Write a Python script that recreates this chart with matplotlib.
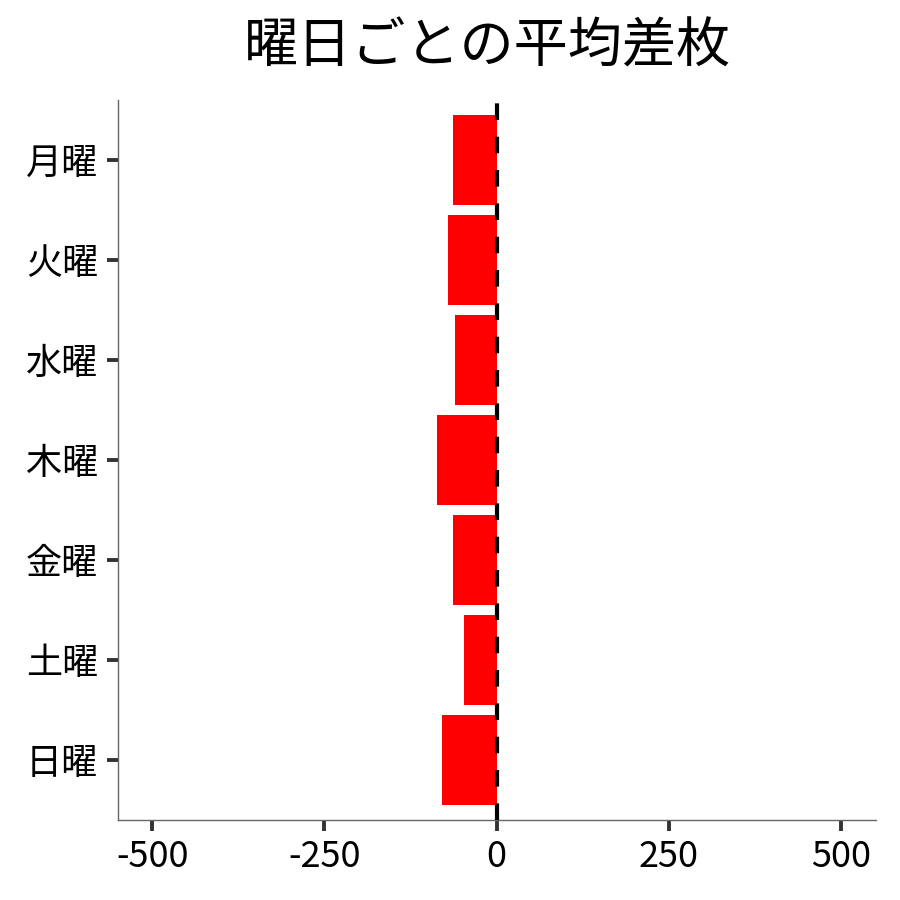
import matplotlib
matplotlib.use("Agg")
import matplotlib.pyplot as plt

plt.rcParams['font.family'] = ['Noto Sans CJK JP', 'DejaVu Sans']

# 曜日ごとのデータ
days = ["月曜", "火曜", "水曜", "木曜", "金曜", "土曜", "日曜"]
avg_diff = [-64, -70, -60, -86, -64, -48, -80]
xticks = [-500, -250, 0, 250, 500]
xtick_labels = ["-500", "-250", "0", "250", "500"]

fig = plt.figure(figsize=(9, 9), dpi=100)
ax = fig.add_axes([0.1308, 0.0889, 0.973 - 0.1308, 0.8])

pos = list(range(len(days)))
ax.barh(pos, avg_diff, height=0.9, color="#ff0000", zorder=2)
ax.axvline(0, color="black", linestyle=(0, (4, 4)), linewidth=3, zorder=3)

ax.set_xlim(-550, 550)
ax.set_ylim(len(days) - 0.4, -0.6)
ax.set_yticks(pos)
ax.set_yticklabels(days)
ax.set_xticks(xticks)
ax.set_xticklabels(xtick_labels)

ax.tick_params(axis="both", labelsize=26, color="#333333", width=2.8, length=8, pad=6)
for s in ["top", "right"]:
    ax.spines[s].set_visible(False)
for s in ["left", "bottom"]:
    ax.spines[s].set_color("#666666")
    ax.spines[s].set_linewidth(1)

# タイトル
ax.set_title("曜日ごとの平均差枚", fontsize=39, pad=27, x=0.488)

plt.savefig("out.png", dpi=100)
